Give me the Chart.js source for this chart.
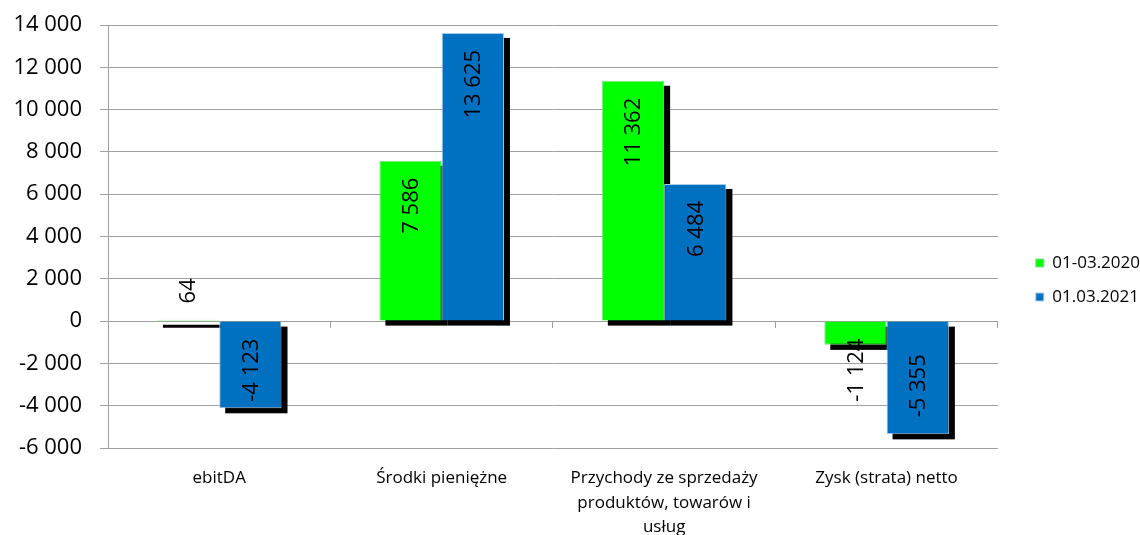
<!DOCTYPE html>
<html>
<head>
<meta charset="utf-8">
<script src="https://cdn.jsdelivr.net/npm/chart.js@4/dist/chart.umd.min.js"></script>
<style>
    html, body { margin: 0; padding: 0; background: #fff; }
    #wrap { width: 1140px; height: 535px; }
</style>
</head>
<body>
<div id="wrap"><canvas id="chartWyniki"></canvas></div>
<script>
const categories = [
    "ebitDA",
    "Środki pieniężne",
    ["Przychody ze sprzedaży", "produktów, towarów i", "usług"],
    "Zysk (strata) netto",
];
const series2020 = [64, 7586, 11362, -1124];
const series2021 = [-4123, 13625, 6484, -5355];
const seriesNames = ["01-03.2020", "01.03.2021"];
const yTicks = [-6000, -4000, -2000, 0, 2000, 4000, 6000, 8000, 10000, 12000, 14000];

const FONT = "'Open Sans', 'Noto Sans', sans-serif";
const GRID = "#a0a0a0";

// 13625 -> "13 625"
function fmt(v) {
    const s = String(Math.abs(v)).replace(/\B(?=(\d{3})+(?!\d))/g, " ");
    return (v < 0 ? "-" : "") + s;
}

// black offset shadow behind bars + rotated value labels
const barExtras = {
    id: "barExtras",
    beforeDatasetsDraw: (chart) => {
        const ctx = chart.ctx;
        ctx.save();
        ctx.fillStyle = "#000";
        chart.data.datasets.forEach((ds, i) => {
            chart.getDatasetMeta(i).data.forEach((bar) => {
                const top = Math.min(bar.y, bar.base);
                const h = Math.max(Math.abs(bar.base - bar.y), 3);
                ctx.fillRect(bar.x - bar.width / 2 + 6, top + 5, bar.width, h);
            });
        });
        ctx.restore();
    },
    afterDatasetsDraw: (chart) => {
        const ctx = chart.ctx;
        ctx.save();
        ctx.font = "22px " + FONT;
        ctx.fillStyle = "#000";
        ctx.textAlign = "left";
        ctx.textBaseline = "middle";
        const gap = 17;
        chart.data.datasets.forEach((ds, i) => {
            chart.getDatasetMeta(i).data.forEach((bar, j) => {
                const v = ds.data[j];
                const txt = fmt(v);
                const w = ctx.measureText(txt).width;
                const len = Math.abs(bar.base - bar.y);
                let start;
                if (len >= w + 2 * gap) {
                    // inside end
                    start = v >= 0 ? bar.y + gap + w : bar.y - gap;
                } else {
                    // too short: start from the base
                    start = v >= 0 ? bar.base - gap : bar.base + gap + w;
                }
                ctx.save();
                ctx.translate(bar.x + 1, start);
                ctx.rotate(-Math.PI / 2);
                ctx.fillText(txt, 0, 0);
                ctx.restore();
            });
        });
        ctx.restore();
    },
};

const ctx = document.getElementById("chartWyniki").getContext("2d");
const chartWyniki = new Chart(ctx, {
    type: "bar",
    data: {
        labels: categories,
        datasets: [
            {
                label: seriesNames[0],
                data: series2020,
                backgroundColor: "#00ff00",
                borderColor: "#80e080",
                borderWidth: 1,
                barPercentage: 1,
                categoryPercentage: 0.56,
            },
            {
                label: seriesNames[1],
                data: series2021,
                backgroundColor: "#0070c0",
                borderColor: "#a9cbe8",
                borderWidth: 1,
                barPercentage: 1,
                categoryPercentage: 0.56,
            },
        ],
    },
    options: {
        responsive: true,
        maintainAspectRatio: false,
        animation: false,
        layout: {
            padding: { top: 25, left: 0, right: -10, bottom: 0 },
        },
        plugins: {
            tooltip: { enabled: false },
            legend: {
                position: "right",
                labels: {
                    boxWidth: 8,
                    boxHeight: 8,
                    padding: 17,
                    color: "#000",
                    font: { family: FONT, size: 17 },
                },
            },
        },
        scales: {
            x: {
                grid: { display: false, drawTicks: false },
                border: { display: false },
                ticks: {
                    color: "#000",
                    padding: 18,
                    maxRotation: 0,
                    autoSkip: false,
                    font: { family: FONT, size: 17, lineHeight: 1.45 },
                },
                afterFit: (scale) => {
                    scale.height = 87;
                },
            },
            x2: {
                type: "category",
                position: { y: 0 },
                labels: categories,
                offset: true,
                grid: {
                    offset: true,
                    drawOnChartArea: false,
                    drawTicks: true,
                    tickLength: 6,
                    color: GRID,
                },
                border: { display: true, color: GRID },
                ticks: { display: false },
            },
            y: {
                min: -6000,
                max: 14000,
                afterBuildTicks: (scale) => {
                    scale.ticks = yTicks.map((v) => ({ value: v }));
                },
                grid: { color: GRID, tickLength: 8 },
                border: { color: GRID },
                ticks: {
                    color: "#000",
                    padding: 18,
                    font: { family: FONT, size: 22 },
                    callback: (value) => fmt(value),
                },
                afterFit: (scale) => {
                    scale.width = 108;
                    scale.paddingTop = 0;
                    scale.paddingBottom = 0;
                },
            },
            // empty spacer between plot and legend
            yGap: {
                type: "linear",
                position: "right",
                grid: { display: false },
                border: { display: false },
                ticks: { display: false },
                afterFit: (scale) => {
                    scale.width = 21;
                },
            },
        },
    },
    plugins: [barExtras],
});
</script>
</body>
</html>
